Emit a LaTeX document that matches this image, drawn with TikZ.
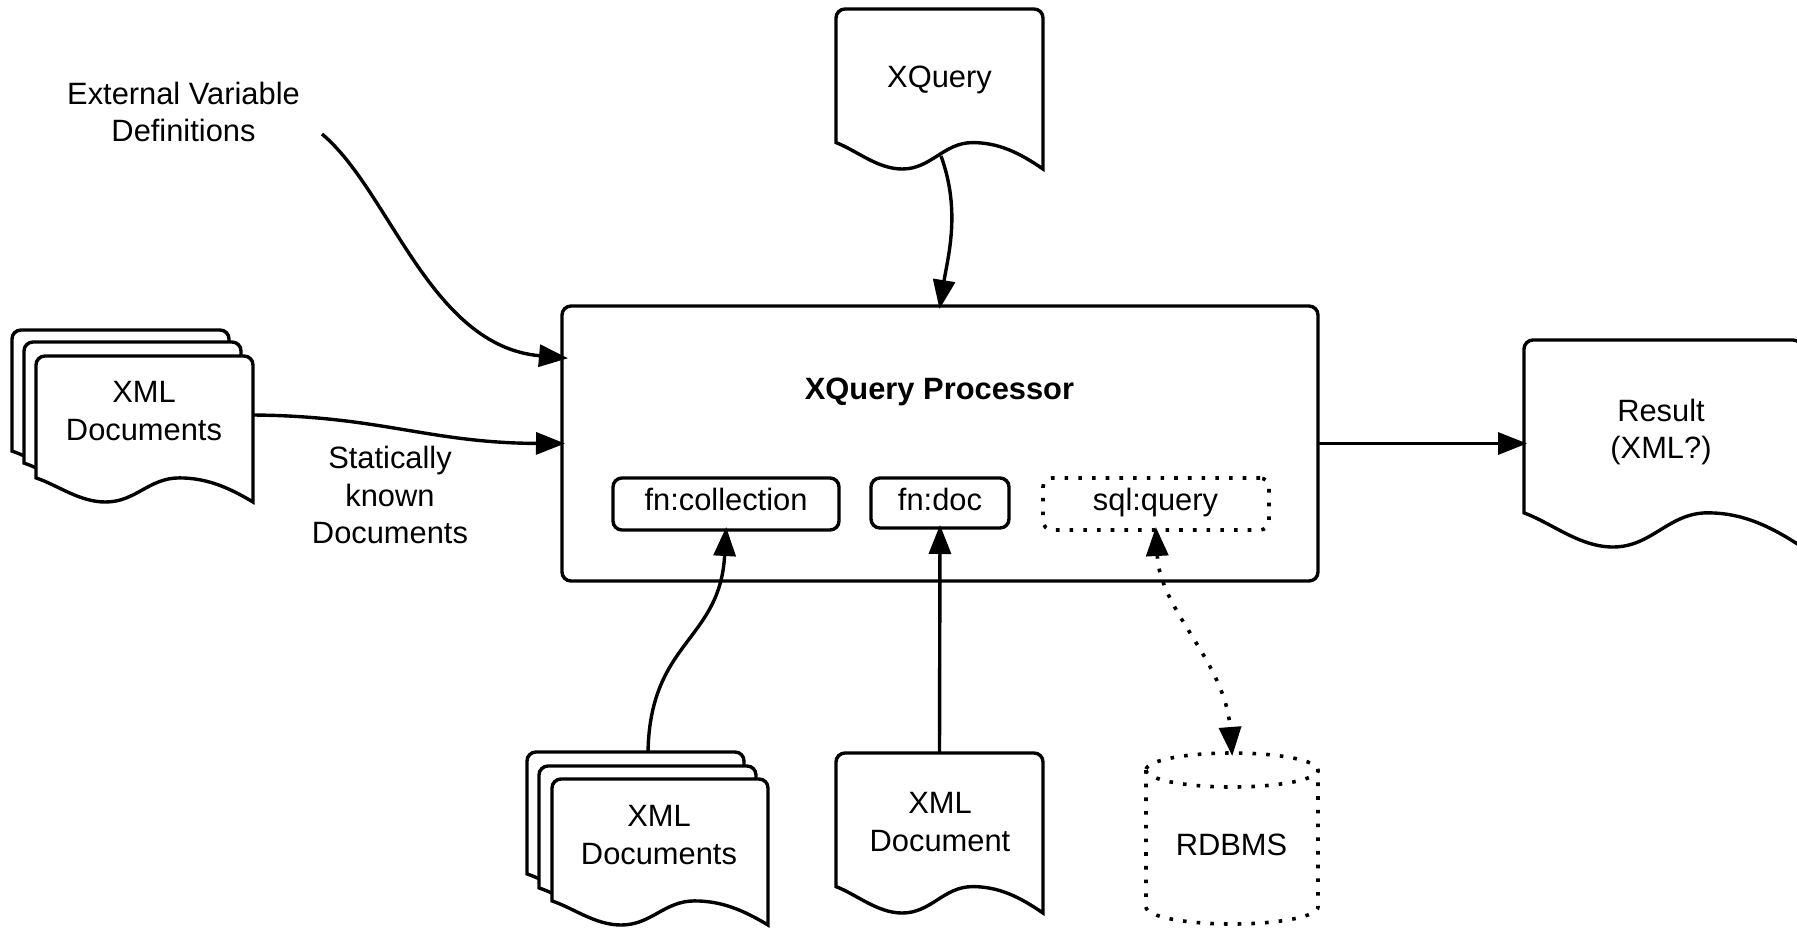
\documentclass[tikz,border=0pt]{standalone}
\usepackage{fontspec}
\setmainfont{Liberation Sans}
\usetikzlibrary{arrows.meta}
\tikzset{
  lw/.style={line width=3.4pt},
  docline/.style={lw, draw=black, fill=white, line join=miter},
  docbase/.style={inner sep=0pt, outer sep=0pt, draw=none},
  txt/.style={font=\fontsize{30.85}{37.7}\selectfont, align=center, inner sep=0pt, outer sep=0pt, anchor=center},
  procbox/.style={lw, draw=black, rounded corners=9pt, inner sep=0pt, outer sep=0pt},
  fnbox/.style={lw, draw=black, rounded corners=9pt, inner sep=0pt, outer sep=0pt},
  dots/.style={line width=3.6pt, dash pattern=on 3.6pt off 10.1pt},
  flow/.style={lw, shorten >=-3pt, -{Triangle[length=29pt,width=22pt]}},
  dotflow/.style={dots, shorten >=-3pt, shorten <=-3pt, {Triangle[length=29pt,width=22pt]}-{Triangle[length=29pt,width=22pt]}},
}
\newcommand{\docshape}[5]{%
  \node[docbase, minimum width=#4pt, minimum height=#5pt] (#1) at ({#2+#4/2},{#3+#5/2}) {};
  \begin{scope}[shift={(#2,#3)}]
    \pgfmathsetmacro{\dw}{#4}
    \pgfmathsetmacro{\dh}{#5}
    \pgfmathsetmacro{\dl}{.835*#5}
    \pgfmathsetmacro{\dq}{\dl+.3*(\dh-\dl)}
    \pgfmathsetmacro{\dr}{\dl+.35*(\dh-\dl)}
    \path[docline] (0,\dl) -- (0,9) .. controls (0,4) and (4,0) .. (9,0) -- ({\dw-9},0)
      .. controls ({\dw-4},0) and (\dw,4) .. (\dw,9) -- (\dw,\dh)
      .. controls ({.88*\dw},\dr) and ({.78*\dw},\dl) .. ({.66*\dw},\dl)
      .. controls ({.52*\dw},\dl) and ({.46*\dw},\dh) .. ({.32*\dw},\dh)
      .. controls ({.2*\dw},\dh) and ({.1*\dw},\dq) .. (0,\dl) -- cycle;
  \end{scope}}
\begin{document}
\begin{tikzpicture}[x=1pt,y=-1pt]
\useasboundingbox (0,-1) rectangle (1797,926);
\fill[white] (0,-1) rectangle (1797,926);

% processor
\node[procbox, minimum width=756pt, minimum height=275pt] (proc) at (940,442.5) {};
\node[txt, anchor=base, font=\fontsize{30.85}{37}\selectfont\bfseries] (proclabel) at (939.5,398.5) {XQuery Processor};
\node[fnbox, minimum width=226pt, minimum height=52pt] (coll) at (726,503) {};
\node[fnbox, minimum width=138pt, minimum height=50pt] (fndoc) at (940,502) {};
\node[dots, draw=black, rounded corners=9pt, inner sep=0pt, outer sep=0pt, minimum width=226pt, minimum height=52pt] (sql) at (1156,503) {};
\node[txt, anchor=base] (colllabel) at (726,509.5) {fn:collection};
\node[txt, anchor=base] (fndoclabel) at (940,509.5) {fn:doc};
\node[txt, anchor=base] (sqllabel) at (1155.5,509.5) {sql:query};

% documents
\docshape{xq}{836}{8}{207}{160}
\node[txt, anchor=base] (xqlabel) at (939.5,86) {XQuery};

\docshape{sa}{12}{329}{217}{145}
\docshape{sb}{24}{341}{217}{145}
\docshape{sc}{36}{355}{217}{146}
\node[txt] (sclabel) at (144,410) {XML\\Documents};

\docshape{ba}{527}{751}{217}{146}
\docshape{bb}{539}{765}{217}{146}
\docshape{bc}{552}{778}{216}{146}
\node[txt] (bclabel) at (659,834) {XML\\Documents};

\docshape{xd}{836}{752}{207}{160}
\node[txt] (xdlabel) at (940,821) {XML\\Document};

\docshape{res}{1524}{339}{278}{207}
\node[txt] (reslabel) at (1661,431) {Result\\(XML?)};

% RDBMS
\node[docbase, minimum width=172pt, minimum height=171pt] (db) at (1232,837.5) {};
\draw[dots] (1146,769) arc[start angle=180, end angle=-180, x radius=86, y radius=17];
\draw[dots] (1146,769) -- (1146,906) arc[start angle=180, end angle=0, x radius=86, y radius=17] -- (1318,769);
\node[txt, anchor=base] (dblabel) at (1231.5,854) {RDBMS};

% free labels
\node[txt] (ext) at (183.5,111) {External Variable\\Definitions};
\node[txt] (stat) at (390,494) {Statically\\known\\Documents};
\coordinate (extstart) at (322,133);

% connectors
\draw[flow] (extstart) .. controls (390,190) and (430,345) .. ([xshift=3pt,yshift=85.5pt]proc.west);
\draw[flow] ([yshift=14pt]sc.east) .. controls (380,415) and (430,442) .. (proc.west);
\draw[flow] (941,155) .. controls (961,210) and (948,255) .. (proc.north);
\draw[flow] (proc.east) -- (res.west);
\draw[flow] ([xshift=12.5pt]ba.north) .. controls (650,640) and (720,640) .. (coll.south);
\draw[flow] (xd.north) -- (fndoc.south);
\draw[dotflow] (sql.south) .. controls (1160,610) and (1225,660) .. (db.north);
\end{tikzpicture}
\end{document}
